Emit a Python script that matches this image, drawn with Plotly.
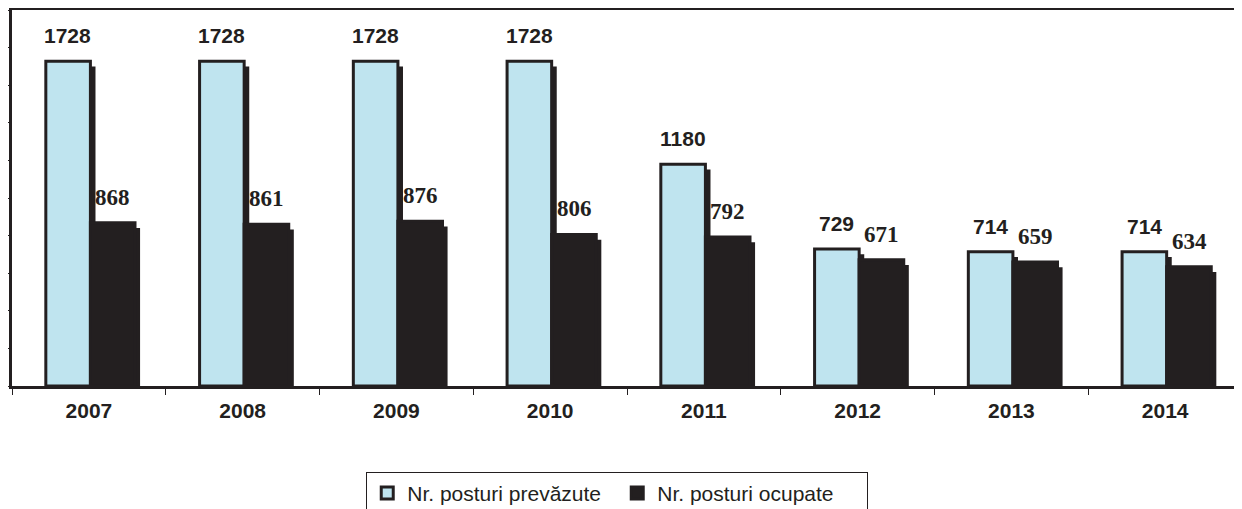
import plotly.graph_objects as go

years = ["2007", "2008", "2009", "2010", "2011", "2012", "2013", "2014"]
posturi_prevazute = [1728, 1728, 1728, 1728, 1180, 729, 714, 714]
posturi_ocupate = [868, 861, 876, 806, 792, 671, 659, 634]

DARK = "#231f20"
LIGHT = "#bfe4ef"
SHADOW_DY = 28  # data units (~5 px)
SHADOW_DX = 0.033

fig = go.Figure()

# shadows
fig.add_trace(go.Bar(x=years, y=[v - SHADOW_DY for v in posturi_prevazute], offset=-0.28 + SHADOW_DX, width=0.29,
                     marker=dict(color=DARK, line=dict(width=0)), showlegend=False, hoverinfo="skip"))
fig.add_trace(go.Bar(x=years, y=[v - SHADOW_DY for v in posturi_ocupate], offset=0.01 + SHADOW_DX, width=0.29,
                     marker=dict(color=DARK, line=dict(width=0)), showlegend=False, hoverinfo="skip"))
# main bars
fig.add_trace(go.Bar(x=years, y=posturi_prevazute, offset=-0.28, width=0.29, name="Nr. posturi prevăzute",
                     marker=dict(color=LIGHT, line=dict(color=DARK, width=3))))
fig.add_trace(go.Bar(x=years, y=posturi_ocupate, offset=0.01, width=0.29, name="Nr. posturi ocupate",
                     marker=dict(color=DARK, line=dict(color=DARK, width=3))))

annotations = []
for i, y in enumerate(years):
    annotations.append(dict(x=i, y=posturi_prevazute[i], xref="x", yref="y", text=str(posturi_prevazute[i]),
                            showarrow=False, xshift=-21, yshift=12, yanchor="bottom",
                            font=dict(family="Liberation Sans, Arial", size=21, color=DARK, weight="bold")))
    annotations.append(dict(x=i, y=posturi_ocupate[i], xref="x", yref="y", text=str(posturi_ocupate[i]),
                            showarrow=False, xshift=24, yshift=11, yanchor="bottom",
                            font=dict(family="Liberation Serif, Times New Roman", size=23, color=DARK, weight="bold")))

# page body has an 8px margin; figure is sized to fill the rest of the window
fig.update_layout(
    width=1234, height=501,
    margin=dict(l=4, r=0, t=2, b=123, autoexpand=False),
    paper_bgcolor="white", plot_bgcolor="white",
    barmode="overlay",
    annotations=annotations,
    showlegend=True,
    legend=dict(orientation="h", x=0.288, xanchor="left", y=-0.228, yanchor="top",
                bordercolor=DARK, borderwidth=1, entrywidth=205,
                font=dict(family="Liberation Sans, Arial", size=21, color=DARK),
                itemclick=False),
    xaxis=dict(type="category", range=[-0.5, 7.5], showline=True, linecolor=DARK, linewidth=3, mirror=True,
               ticks="outside", ticklen=6, tickcolor=DARK, tickwidth=1, tickson="boundaries",
               tickfont=dict(family="Liberation Sans, Arial", size=21, color=DARK, weight="bold"),
               showgrid=False, zeroline=False, ticklabelstandoff=4, automargin=False),
    yaxis=dict(range=[0, 2000], dtick=200, showline=True, linecolor=DARK, linewidth=3,
               ticks="outside", ticklen=6, tickcolor=DARK, tickwidth=1, showticklabels=False,
               showgrid=False, zeroline=False, automargin=False),
)

fig.write_html("out.html")
